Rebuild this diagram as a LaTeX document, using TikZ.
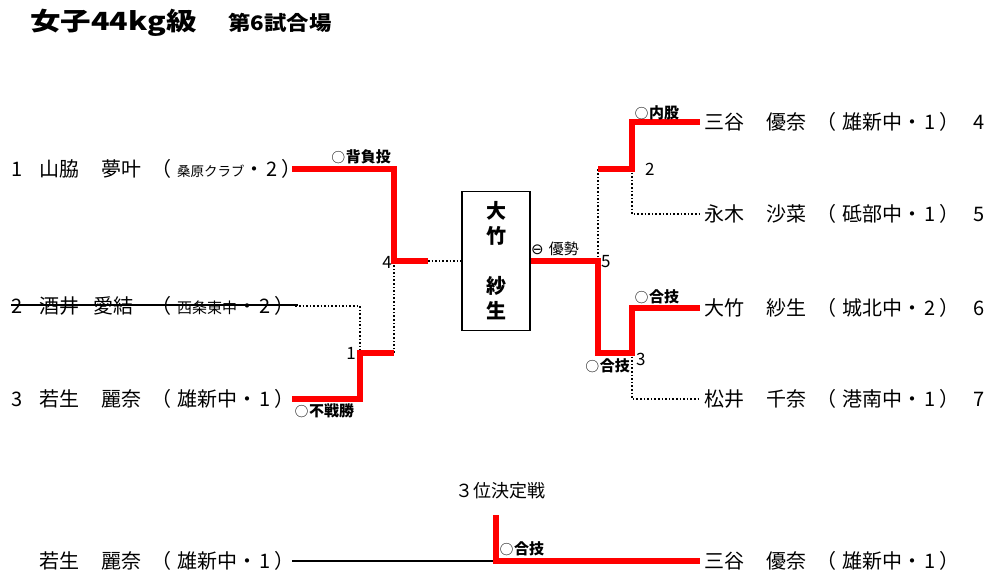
\documentclass[tikz,border=0pt]{standalone}
\usepackage{fontspec}
\setmainfont{Noto Sans CJK JP}
\newfontfamily\symfont{DejaVu Sans}
\usepackage{graphicx}
\definecolor{winred}{RGB}{255,0,0}
\tikzset{win/.style={draw=winred, line width=5.5pt, line join=miter, line cap=butt},
  lose/.style={draw=black, line width=1.5pt, dash pattern=on 1.6pt off 2pt},
  player/.style={anchor=west, inner sep=0pt, font=\fontsize{20}{24}\selectfont},
  waza/.style={inner sep=0pt, font=\fontsize{15}{17}\selectfont\bfseries},
  seed/.style={inner sep=0pt, font=\fontsize{17}{19}\selectfont}}
\newcommand{\pl}[5][62pt]{\makebox[#1][l]{#2}\makebox[\dimexpr112pt-#1\relax][l]{#3}（\hspace{6pt}#4・\hspace{2pt}#5\hspace{4pt}）}
\newcommand{\maru}{{\fontsize{13}{15}\selectfont ◯}\hspace{1pt}}

\begin{document}
\begin{tikzpicture}[x=1pt,y=-1pt]
\useasboundingbox (0,0) rectangle (1002,586);
\node[anchor=west, inner sep=0pt] (title) at (30,22.5) {\scalebox{1.22}[1]{\fontsize{25}{30}\selectfont\bfseries 女子44kg級}};
\node[anchor=west, inner sep=0pt] (court) at (228,22.5) {\scalebox{1.12}[1]{\fontsize{20}{24}\selectfont\bfseries 第6試合場}};
\node[player] (p1) at (11,169) {\makebox[281pt][l]{\makebox[28pt][l]{1}\pl{山脇}{夢叶}{{\fontsize{13.5}{16}\selectfont 桑原クラブ}}{2}}};
\node[player] (p2) at (11,306) {\makebox[281pt][l]{\makebox[28pt][l]{2}\pl[54pt]{酒井}{愛結}{{\fontsize{15}{18}\selectfont 西条東中}}{2}}};
\node[player] (p3) at (11,399) {\makebox[281pt][l]{\makebox[28pt][l]{3}\pl{若生}{麗奈}{雄新中}{1}}};
\node[player] (r4) at (704,122) {\pl{三谷}{優奈}{雄新中}{1}\hspace{14pt}4};
\node[player] (r5) at (704,214) {\pl{永木}{沙菜}{砥部中}{1}\hspace{14pt}5};
\node[player] (r6) at (704,308) {\pl{大竹}{紗生}{城北中}{2}\hspace{14pt}6};
\node[player] (r7) at (704,399) {\pl{松井}{千奈}{港南中}{1}\hspace{14pt}7};
\node[draw, line width=1.5pt, minimum width=68pt, minimum height=139pt, inner sep=0pt, align=center, font=\fontsize{20}{25}\selectfont\bfseries] (champ) at (496,261) {大\\竹\\[25pt]紗\\生};
\node[inner sep=0pt, font=\fontsize{18}{20}\selectfont] (third) at (500,491) {３位決定戦};
\node[player] (b1) at (39,561) {\makebox[253pt][l]{\pl{若生}{麗奈}{雄新中}{1}}};
\node[player] (b2) at (704,561) {\pl{三谷}{優奈}{雄新中}{1}};
\coordinate (j4) at (394,261);
\coordinate (m4) at (428,261);
\coordinate (j1) at (360,353);
\coordinate (k1) at (394,353);
\coordinate (j5) at (598,261);
\coordinate (k2) at (598,169);
\coordinate (j2) at (632,169);
\coordinate (j3) at (632,353);
\coordinate (jb) at (496,561);
\coordinate (tb) at (496,515);
\draw[line width=1.2pt] ([yshift=1pt]p2.west) -- ([xshift=6pt,yshift=1pt]p2.east);
\draw[lose] ([xshift=3pt]p2.east) -| (j1);
\draw[lose] (k1) -- (j4);
\draw[lose] (m4) -- (champ.west);
\draw[lose] (j5) -- (k2);
\draw[lose] (j2) |- ([xshift=-4pt]r5.west);
\draw[lose] (j3) |- ([xshift=-4pt]r7.west);
\draw[win] (p1.east) -| (j4) -- (m4);
\draw[win] (p3.east) -| (j1) -- (k1);
\draw[win] (champ.east) -- (j5) |- (j3) |- ([xshift=-4pt]r6.west);
\draw[win] (k2) -- (j2) |- ([xshift=-4pt]r4.west);
\draw[line width=1.5pt] (b1.east) -- (jb);
\draw[win] (tb) -- (jb) -- ([xshift=-4pt]b2.west);
\node[waza, anchor=east] (w1) at (391,157) {\maru 背負投};
\node[waza, anchor=west] (w2) at (295,411) {\maru 不戦勝};
\node[waza, anchor=west] (w3) at (635,113) {\maru 内股};
\node[waza, anchor=west] (w4) at (635,297) {\maru 合技};
\node[waza, anchor=east] (w5) at (630,366) {\maru 合技};
\node[waza, anchor=west] (w6) at (500,549) {\maru 合技};
\node[inner sep=0pt, anchor=west, font=\fontsize{15}{17}\selectfont] (w7) at (531,249) {{\symfont ⊖}\hspace{5pt}優勢};
\node[seed, anchor=east] (n4) at (392,262) {4};
\node[seed, anchor=east] (n1) at (356,353) {1};
\node[seed, anchor=west] (n5) at (601,262) {5};
\node[seed, anchor=west] (n2) at (645,169) {2};
\node[seed, anchor=west] (n3) at (636,359) {3};
\end{tikzpicture}
\end{document}
